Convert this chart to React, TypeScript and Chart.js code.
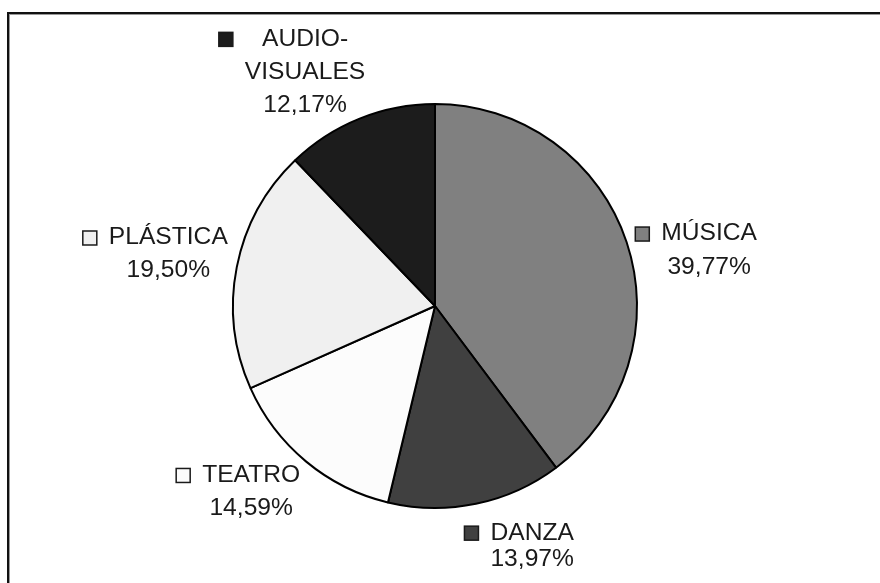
import React, { useEffect, useRef } from "react";
import { Chart, registerables } from "chart.js";

Chart.register(...registerables);

const categories = ["MÚSICA", "DANZA", "TEATRO", "PLÁSTICA", "AUDIO-\nVISUALES"];
const shares = [39.77, 13.97, 14.59, 19.5, 12.17];
const sliceColors = ["#808080", "#404040", "#fcfcfc", "#f0f0f0", "#1c1c1c"];

// label placement tuning (nudges relative to the angle-derived anchor)
const labelNudges = [
  [25, 28],
  [44, -17],
  [-16, -16],
  [-9, -1],
  [-32, 10],
];
const labelLineHeights = [34, 26, 33, 33, 33];

const fmt = (v: number) => v.toFixed(2).replace(".", ",") + "%";

const labelPlugin = {
  id: "sliceLabels",
  afterDraw(chart: any) {
    const ctx = chart.ctx as CanvasRenderingContext2D;
    const meta = chart.getDatasetMeta(0);
    const sx = 1.07;
    ctx.save();
    ctx.font = '23px "Liberation Sans", Arial, sans-serif';
    ctx.fillStyle = "#1a1a1a";
    ctx.textAlign = "center";
    ctx.textBaseline = "middle";
    meta.data.forEach((arc: any, i: number) => {
      const p = arc.getProps(["x", "y", "startAngle", "endAngle", "outerRadius"], true);
      const mid = (p.startAngle + p.endAngle) / 2;
      const r = p.outerRadius * 1.3;
      const cx = p.x + Math.cos(mid) * r + labelNudges[i][0];
      const cy = p.y + Math.sin(mid) * r + labelNudges[i][1];
      const lines = [...categories[i].split("\n"), fmt(shares[i])];
      const lh = labelLineHeights[i];
      const y0 = cy - ((lines.length - 1) * lh) / 2;
      let maxW = 0;
      lines.forEach((l) => {
        maxW = Math.max(maxW, ctx.measureText(l).width * sx);
      });
      lines.forEach((l, j) => {
        ctx.save();
        ctx.translate(cx, y0 + j * lh);
        ctx.scale(sx, 1);
        ctx.fillText(l, 0, 0);
        ctx.restore();
      });
      const sq = 14;
      const sqRight = cx - maxW / 2 - 12;
      ctx.fillStyle = sliceColors[i];
      ctx.fillRect(sqRight - sq, y0 - sq / 2, sq, sq);
      ctx.strokeStyle = "#1a1a1a";
      ctx.lineWidth = 1.5;
      ctx.strokeRect(sqRight - sq, y0 - sq / 2, sq, sq);
      ctx.fillStyle = "#1a1a1a";
    });
    ctx.restore();
  },
};

export default function App() {
  const ref = useRef<HTMLCanvasElement>(null);
  useEffect(() => {
    if (!ref.current) return;
    const chart = new Chart(ref.current, {
      type: "pie",
      data: {
        labels: categories,
        datasets: [
          {
            data: shares,
            backgroundColor: sliceColors,
            borderColor: "#000000",
            borderWidth: 2,
          },
        ],
      },
      options: {
        responsive: false,
        animation: false,
        layout: { padding: { top: 103, bottom: 74, left: 135, right: 145 } },
        plugins: { legend: { display: false }, tooltip: { enabled: false } },
      },
      plugins: [labelPlugin],
    });
    return () => chart.destroy();
  }, []);
  return (
    <div
      style={{
        position: "fixed",
        left: 0,
        top: 0,
        width: 880,
        height: 583,
        overflow: "hidden",
        background: "#ffffff",
      }}
    >
      <div
        style={{
          position: "absolute",
          left: 7,
          top: 12,
          width: 900,
          height: 600,
          borderTop: "2px solid #111",
          borderLeft: "2px solid #111",
          boxShadow: "inset 1px 1px 0 #999",
        }}
      />
      <canvas
        ref={ref}
        width={880}
        height={583}
        style={{ position: "absolute", left: 0, top: 0 }}
      />
    </div>
  );
}
